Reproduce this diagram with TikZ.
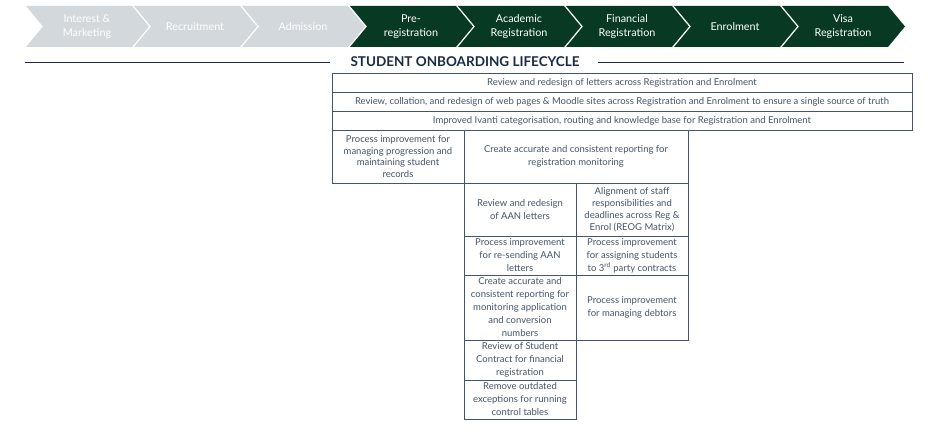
\documentclass[tikz,border=0pt]{standalone}
\usepackage{fontspec}
\setmainfont{Lato}
\definecolor{chgray}{HTML}{D3D8DC}
\definecolor{chgreen}{HTML}{083A23}
\definecolor{boxc}{HTML}{44546A}
\definecolor{navy}{HTML}{1B2A45}
\begin{document}
\begin{tikzpicture}[x=1pt,y=-1pt,
  chevtext/.style={text=white, font=\fontsize{10.8}{14.5}\selectfont, align=center},
  box/.style={draw=boxc, line width=0.8pt, text=boxc, align=center, inner sep=1pt, font=\fontsize{9.5}{13}\selectfont},
  rule/.style={draw=navy, line width=1.8pt}
]
\useasboundingbox (0,0) rectangle (943,433);
% chevrons
\foreach \i/\c/\t in {0/chgray/{Interest \&\\Marketing},1/chgray/Recruitment,2/chgray/Admission,3/chgreen/{Pre-\\registration},4/chgreen/{Academic\\Registration},5/chgreen/{Financial\\Registration},6/chgreen/Enrolment,7/chgreen/{Visa\\Registration}}{
  \pgfmathsetmacro{\xo}{26+108*\i}
  \fill[\c] (\xo,6) -- (\xo+106,6) -- (\xo+123,26.5) -- (\xo+106,47) -- (\xo,47) -- (\xo+17,26.5) -- cycle;
  \node[chevtext] (ch\i) at (\xo+61,26.5) {\t};
}
% title and rules
\node[font=\fontsize{13.5}{15}\bfseries\selectfont, text=navy] (title) at (465,62) {STUDENT ONBOARDING LIFECYCLE};
\coordinate (l1) at (25,62.5);
\coordinate (l2) at (330,62.5);
\coordinate (r1) at (598,62.5);
\coordinate (r2) at (904,62.5);
\draw[rule] (l1) -- (l2);
\draw[rule] (r1) -- (r2);
% boxes
\node[box, minimum width=580, minimum height=19] (r1b) at (622,82.5) {Review and redesign of letters across Registration and Enrolment};
\node[box, minimum width=580, minimum height=19] (r2b) at (622,101.5) {Review, collation, and redesign of web pages \& Moodle sites across Registration and Enrolment to ensure a single source of truth};
\node[box, minimum width=580, minimum height=19] (r3b) at (622,120.5) {Improved Ivanti categorisation, routing and knowledge base for Registration and Enrolment};
\node[box, minimum width=132, minimum height=53, font=\fontsize{9.5}{11.4}\selectfont] (l4) at (398,156.5) {Process improvement for\\managing progression and\\maintaining student\\records};
\node[box, minimum width=224, minimum height=53] (m4) at (576,156.5) {Create accurate and consistent reporting for\\registration monitoring};
\node[box, minimum width=112, minimum height=53] (a1) at (520,209.5) {Review and redesign\\of AAN letters};
\node[box, minimum width=112, minimum height=53, font=\fontsize{9.5}{12}\selectfont] (b1) at (632,209.5) {Alignment of staff\\responsibilities and\\deadlines across Reg \&\\Enrol (REOG Matrix)};
\node[box, minimum width=112, minimum height=39] (a2) at (520,255.5) {Process improvement\\for re-sending AAN\\letters};
\node[box, minimum width=112, minimum height=39] (b2) at (632,255.5) {Process improvement\\for assigning students\\to 3\textsuperscript{rd} party contracts};
\node[box, minimum width=112, minimum height=65] (a3) at (520,307.5) {Create accurate and\\consistent reporting for\\monitoring application\\and conversion\\numbers};
\node[box, minimum width=112, minimum height=65] (b3) at (632,307.5) {Process improvement\\for managing debtors};
\node[box, minimum width=112, minimum height=40] (a4) at (520,360) {Review of Student\\Contract for financial\\registration};
\node[box, minimum width=112, minimum height=39] (a5) at (520,399.5) {Remove outdated\\exceptions for running\\control tables};
\end{tikzpicture}
\end{document}
